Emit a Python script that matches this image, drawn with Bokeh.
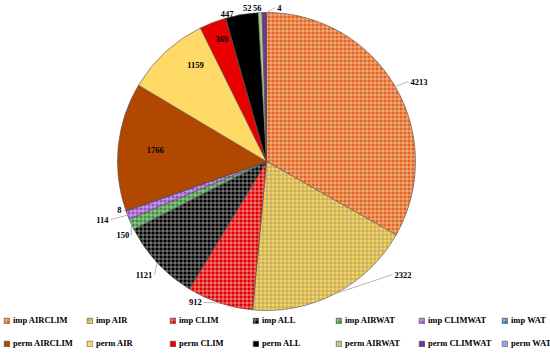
import numpy as np
from bokeh.plotting import figure
from bokeh.models import ColumnDataSource, Legend, LegendItem, Range1d
from bokeh.core.properties import value
from bokeh.embed import file_html
from bokeh.resources import INLINE

# ---- data ----
categories = ["imp AIRCLIM", "imp AIR", "imp CLIM", "imp ALL", "imp AIRWAT", "imp CLIMWAT", "imp WAT",
              "perm AIRCLIM", "perm AIR", "perm CLIM", "perm ALL", "perm AIRWAT", "perm CLIMWAT", "perm WAT"]
counts = [4213, 2322, 912, 1121, 150, 114, 8, 1766, 1159, 369, 447, 52, 56, 4]

# ---- styles ----
colors = ["#E3641A", "#F8D45A", "#E00000", "#000000", "#3B8F3B", "#9B4DCA", "#2E75B6",
          "#B24800", "#FFD966", "#E80000", "#000000", "#A9D18E", "#7030A0", "#8FAADC"]
hatches = ["+"] * 7 + [" "] * 7
hatch_colors = ["white", "#7F7F7F", "white", "white", "white", "white", "white"] + ["white"] * 7

# label placement (radius factor, pixel nudges: dx right, dy down), alignment, leader flag
lab_k = [1, 1, 1, 1, 1, 1, 1, 0.75, 0.8, 0.85, 1, 1, 1, 1]
lab_dx = [15.3, 59, -18, -5, -2, -19, -4.5, 0, 10, 1, -8.4, -8.6, -2.6, 11]
lab_dy = [-4.9, -19, -0.5, 12, 11, 4.4, -0.5, 0, -9, -4, -1, -5, -5, -5]
lab_align = ["left", "left", "right", "right", "right", "right", "right",
             "center", "center", "center", "right", "right", "right", "left"]
leader = [1, 1, 1, 1, 1, 1, 1, 0, 0, 0, 0, 0, 0, 1]

W, H = 550, 353
cx, cy, R = 266, 192, 149

vals = np.array(counts, dtype=float)
frac = vals / vals.sum()
f1 = np.cumsum(frac)
f0 = f1 - frac
start = np.pi / 2 - 2 * np.pi * f0
end = np.pi / 2 - 2 * np.pi * f1
mid = 2 * np.pi * (f0 + f1) / 2  # clockwise from top

src = ColumnDataSource(dict(cat=categories, start=start, end=end, color=colors,
                            hatch=hatches, hcolor=hatch_colors))

p = figure(width=W, height=H, output_backend="svg", toolbar_location=None,
           x_range=Range1d(0, W), y_range=Range1d(0, H),
           x_axis_type=None, y_axis_type=None, min_border=0)
p.outline_line_color = None
p.background_fill_color = "white"

r = p.wedge(x=cx, y=cy, radius=R, start_angle="start", end_angle="end", direction="clock",
            fill_color="color", line_color="#505050", line_width=0.6,
            hatch_pattern="hatch", hatch_color="hcolor", hatch_scale=4, hatch_weight=1,
            hatch_alpha=0.5, source=src)

# labels
ex = cx + R * np.sin(mid)
ey = cy + R * np.cos(mid)
k = np.array(lab_k)
lx = cx + k * R * np.sin(mid) + np.array(lab_dx)
ly = cy + k * R * np.cos(mid) - np.array(lab_dy)

sx0, sy0, sx1, sy1 = [], [], [], []
for i in range(len(counts)):
    if leader[i]:
        off = -2 if lab_align[i] == "left" else 2
        sx0.append(ex[i]); sy0.append(ey[i]); sx1.append(lx[i] + off); sy1.append(ly[i])
p.segment(x0=sx0, y0=sy0, x1=sx1, y1=sy1, line_color="#A6A6A6", line_width=0.8)

lab_src = ColumnDataSource(dict(x=lx, y=ly, t=[str(c) for c in counts], a=lab_align))
p.text(x="x", y="y", text="t", text_align="a", text_baseline="middle",
       text_font=value("Liberation Serif"), text_font_style="bold", text_font_size="8.5px",
       text_color="black", source=lab_src)

# legends
def make_legend(idx, loc):
    items = [LegendItem(label=categories[i], renderers=[r], index=i) for i in idx]
    return Legend(items=items, orientation="horizontal", location=loc,
                  glyph_width=7, glyph_height=7, label_width=69, label_height=10,
                  label_standoff=3, spacing=4, padding=0, margin=0,
                  border_line_color=None, background_fill_alpha=0,
                  label_text_font="Liberation Serif", label_text_font_style="bold",
                  label_text_font_size="8.5px", label_text_color="black")

p.add_layout(make_legend(range(0, 7), (3, 28)))
p.add_layout(make_legend(range(7, 14), (3, 5)))

open("out.html", "w").write(file_html(p, INLINE))
